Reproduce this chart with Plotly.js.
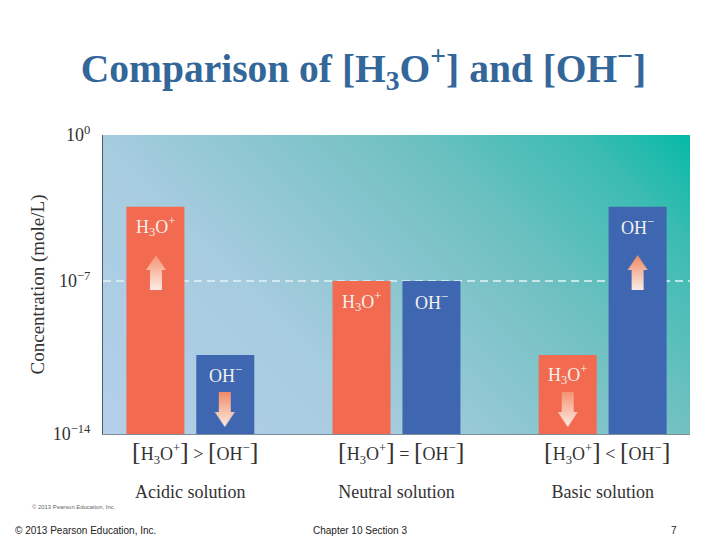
<!DOCTYPE html>
<html><head><meta charset="utf-8">
<script src="https://cdn.plot.ly/plotly-3.0.1.min.js"></script>
<style>html,body{margin:0;padding:0;background:#fff}#c{width:720px;height:540px}</style>
</head><body><div id="c"></div>
<script>
const solutions = ["Acidic solution", "Neutral solution", "Basic solution"];
const relations = [">", "=", "<"];
const h3oExponent = [-3.36, -6.84, -10.3];
const ohExponent = [-10.3, -6.84, -3.36];
const tickExponent = [0, -6.84, -14];
const tickText = ["10<sup>0</sup>", "10<sup>\u22127</sup>", "10<sup>\u221214</sup>"];

const SERIF = '"Liberation Serif", serif';
const SANS = '"Liberation Sans", sans-serif';
const W = 720, H = 540, L = 102.5, R = 690.5, T = 135, B = 434;

function pow10(a){ return a.map(v => Math.pow(10, v)); }
const big = s => '<span style="font-size:26px">' + s + '</span>';
const H3O = 'H<sub>3</sub>O<sup>+</sup>', OH = 'OH<sup>\u2212</sup>';
const formula = relations.map(r =>
  big('[') + H3O + big(']') + ' ' + r.replace('<','&lt;').replace('>','&gt;') + ' ' + big('[') + OH + big(']'));

function gradientBg(){
  const c = document.createElement('canvas'); c.width = 588; c.height = 299;
  const x = c.getContext('2d');
  const d = (588 + 299) / 2;
  const g = x.createLinearGradient(0, 299, d, 299 - d);
  g.addColorStop(0, '#B4CFEA'); g.addColorStop(0.33, '#A6CCDF');
  g.addColorStop(0.66, '#72C1C2'); g.addColorStop(0.88, '#3ABCB2'); g.addColorStop(1, '#05B9A6');
  x.fillStyle = g; x.fillRect(0, 0, 588, 299);
  return c.toDataURL();
}
function arrow(up, headColor, tailColor){
  const s = 4, w = 20 * s, h = 35 * s;
  const c = document.createElement('canvas'); c.width = w; c.height = h;
  const x = c.getContext('2d');
  const g = x.createLinearGradient(0, up ? 0 : h, 0, up ? h : 0);
  g.addColorStop(0, headColor); g.addColorStop(1, tailColor);
  x.fillStyle = g;
  x.save();
  if (!up) { x.translate(0, h); x.scale(1, -1); }
  x.beginPath();
  x.moveTo(w/2, 0); x.lineTo(w, 15*s); x.lineTo(16*s, 15*s); x.lineTo(16*s, h);
  x.lineTo(4*s, h); x.lineTo(4*s, 15*s); x.lineTo(0, 15*s); x.closePath(); x.fill();
  x.restore();
  return c.toDataURL();
}
function arrowImage(cx, top, up, head, tail){
  return {source: arrow(up, head, tail), xref:'paper', yref:'paper', xanchor:'center', yanchor:'top',
    x:(cx-L)/(R-L), y:(B-top)/(B-T), sizex:20/(R-L), sizey:35/(B-T), sizing:'stretch', layer:'above'};
}

const barAnn = (i, dx, exp, text) => ({xref:'x', yref:'y', x:i+dx, y:exp, yshift:-20, text, showarrow:false,
  font:{family:SERIF, size:18, color:'#F4F1EC'}, xanchor:'center', yanchor:'middle'});
const off = 0.1695;
const annotations = [];
solutions.forEach((s, i) => {
  annotations.push(barAnn(i, -off, h3oExponent[i], H3O));
  annotations.push(barAnn(i, off, ohExponent[i], OH));
  annotations.push({xref:'x', yref:'paper', x:i, xshift:4.5, y:(B-452)/(B-T), text:formula[i], showarrow:false,
    font:{family:SERIF, size:18, color:'#333333'}, xanchor:'center', yanchor:'middle'});
});
const pap = (px, py, text, size, color, anchor) => ({xref:'paper', yref:'paper', x:(px-L)/(R-L), y:(B-py)/(B-T),
  text, showarrow:false, font:{family:SANS, size, color}, xanchor:anchor||'left', yanchor:'middle'});
annotations.push(pap(29, 507, '\u00A9 2013 Pearson Education, Inc.', 5.9, '#666666'));
annotations.push(pap(12, 530, '\u00A9 2013 Pearson Education, Inc.', 10, '#222222'));
annotations.push(pap(311, 530, 'Chapter 10 Section 3', 10, '#222222'));
annotations.push(pap(669, 530, '7', 10, '#222222'));

const traces = [
 {type:'bar', name:'H3O+', x:solutions, y:pow10(h3oExponent), base:1e-14, marker:{color:'#F26A50'}, hoverinfo:'skip'},
 {type:'bar', name:'OH-', x:solutions, y:pow10(ohExponent), base:1e-14, marker:{color:'#3F67B1'}, hoverinfo:'skip'}
];
const layout = {
  width:W, height:H, autosize:false, showlegend:false,
  paper_bgcolor:'#fff', plot_bgcolor:'rgba(0,0,0,0)',
  margin:{l:L, r:W-R, t:T, b:H-B, pad:0},
  barmode:'group', bargap:0.322, bargroupgap:0.17,
  title:{text:'Comparison of [H<sub>3</sub>O<sup>+</sup>] and [OH<sup>\u2212</sup>]',
    font:{family:SERIF, size:39.5, color:'#336699', weight:'bold'}, x:363.5/W, xanchor:'center', y:1-68/H, yanchor:'middle'},
  xaxis:{type:'category', range:[-0.4237, 2.4237], tickmode:'array', tickvals:solutions, ticktext:solutions,
    ticks:'', showgrid:false, zeroline:false, showline:true, linecolor:'#7E8C9A', linewidth:1,
    tickangle:0, tickfont:{family:SERIF, size:18, color:'#333333'}, ticklabelstandoff:41, automargin:false},
  yaxis:{type:'log', range:[-14, 0], tickmode:'array', tickvals:pow10(tickExponent), ticktext:tickText,
    ticks:'', showgrid:false, zeroline:false, showline:true, linecolor:'#4D5B6B', linewidth:1,
    tickfont:{family:SERIF, size:18, color:'#333333'}, ticklabelstandoff:8, automargin:false,
    title:{text:'Concentration (mole/L)', font:{family:SERIF, size:19, color:'#333333'}, standoff:3}},
  images:[
    {source:gradientBg(), xref:'paper', yref:'paper', x:0, y:1, sizex:1, sizey:1, sizing:'stretch', xanchor:'left', yanchor:'top', layer:'below'},
    arrowImage(155.5, 255, true, '#F59473', '#FDEDE6'),
    arrowImage(224.5, 392, false, '#F28C66', '#FBEDE6'),
    arrowImage(568, 392, false, '#F59473', '#FDEDE6'),
    arrowImage(638, 255, true, '#F08A62', '#FBEDE6')
  ],
  shapes:[{type:'line', xref:'paper', yref:'y', x0:0, x1:1, y0:Math.pow(10,-6.84), y1:Math.pow(10,-6.84),
    layer:'between', line:{color:'#E4F4F6', width:1.5, dash:'8px,5px'}}],
  annotations
};
Plotly.newPlot('c', traces, layout, {displayModeBar:false, staticPlot:true});
</script></body></html>
